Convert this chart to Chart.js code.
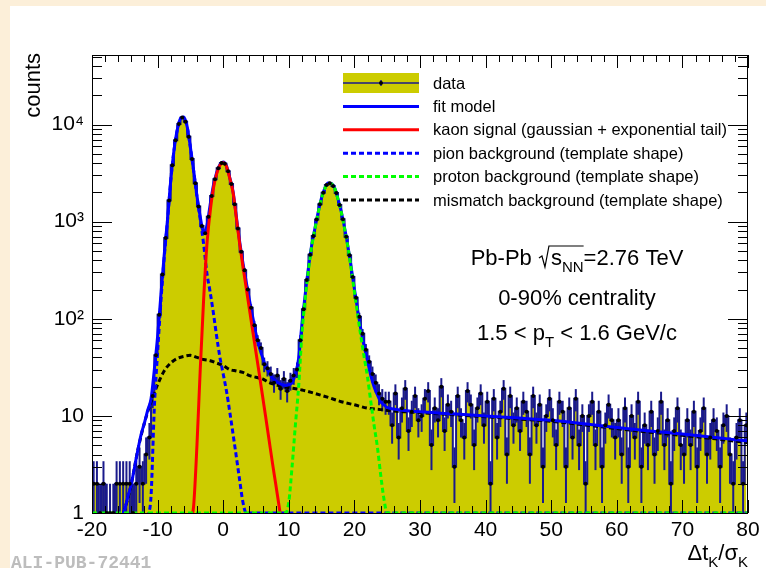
<!DOCTYPE html>
<html lang="en">
<head>
<meta charset="UTF-8" />
<title>Kaon TOF fit</title>
<script src="https://cdn.jsdelivr.net/npm/chart.js@4.4.1/dist/chart.umd.min.js"></script>
<style>
  html, body { margin: 0; padding: 0; background: #fcefd9; }
  canvas { display: block; }
</style>
</head>
<body>
<canvas id="myChart" width="766" height="568"></canvas>
<script>
// histogram: 200 bins of 0.5 from -20 to 80
const binLow = -20;
const binWidth = 0.5;
const counts = [
  2, 2, 1, 2, 1, 1, 1, 2, 2, 2,
  2, 2, 1, 2, 3, 2, 4, 6, 16, 42,
  110, 285, 680, 1650, 3800, 6900, 10100, 11800, 10700, 7500,
  4420, 2480, 1430, 900, 760, 1120, 1840, 2730, 3540, 4010,
  3950, 3300, 2440, 1510, 850, 490, 315, 200, 130, 86,
  60, 50, 34, 31, 27, 22, 26, 19, 24, 18,
  23, 26, 30, 60, 125, 250, 455, 710, 1050, 1510,
  1990, 2380, 2490, 2330, 1970, 1480, 1060, 700, 450, 270,
  165, 105, 70, 48, 36, 27, 22, 17, 15, 14,
  14, 8, 17, 6, 12, 19, 7, 11, 16, 9,
  10, 15, 18, 5, 12, 9, 20, 7, 13, 11,
  3, 16, 9, 6, 18, 13, 5, 12, 17, 8,
  14, 2, 15, 6, 11, 19, 4, 16, 8, 12,
  7, 14, 11, 4, 16, 8, 13, 3, 10, 15,
  9, 5, 14, 11, 3, 12, 6, 15, 5, 10,
  2, 10, 14, 5, 11, 3, 8, 13, 9, 6,
  9, 4, 12, 3, 10, 6, 14, 3, 8, 5,
  11, 4, 7, 14, 5, 9, 2, 7, 12, 5,
  4, 9, 5, 11, 3, 7, 12, 4, 6, 9,
  7, 3, 8, 10, 4, 2, 6, 9, 2, 8
];

// fit model (total)
const fitX = [-16,-15.5,-15,-14.5,-14,-13.5,-13,-12.5,-12,-11.5,-11,-10.5,-10,-9.5,-9,-8.5,-8,-7.5,-7,-6.5,
  -6,-5.5,-5,-4.5,-4,-3.5,-3,-2.5,-2,-1.5,-1,-0.5,0,0.5,1,1.5,2,2.5,3,3.5,4,4.5,5,5.5,6,6.5,7,7.5,8,8.5,
  9,9.5,10,10.5,11,11.5,12,12.5,13,13.5,14,14.5,15,15.5,16,16.5,17,17.5,18,18.5,19,19.5,20,20.5,21,21.5,
  22,22.5,23,23.5,24,24.5,25,26,28,30,35,40,45,50,55,60,65,70,75,80];
const fitY = [0.7,0.9,1.1,1.5,2,3,4.5,6.5,8.5,11.5,15,30,66,175,450,1030,2640,5440,8840,11540,
  11940,9540,5840,3340,1845,1120,790,900,1480,2350,3200,3870,4110,3750,2840,2040,1130,630,380,242,
  156,104,70,51,40,32,28,24.5,23,21.7,21,20.6,21,22,27,39,88,178,338,578,
  867,1267,1767,2216,2495,2465,2215,1715,1264,864,563,343,203,123,77,52,37,26,20,16.5,
  14,13,12.2,11.8,11.3,11,10.5,10,9.5,9,8.3,7.6,7,6.5,6,5.5];

// kaon signal
const kaonX = [-5,-4.5,-4,-3.5,-3,-2.5,-2,-1.5,-1,-0.5,0,0.5,1,1.5,2,2.5,3,3.5,4,4.5,5,5.5,6,6.5,7,7.5,8,8.5,9];
const kaonY = [0.8,1.2,5,30,150,560,1250,2200,3100,3800,4050,3700,2800,2000,1100,600,350,210,125,75,45,27,16,9.5,5.6,3.3,2,1.2,0.7];

// pion background
const pionX = [-11.5,-11,-10.5,-10,-9.5,-9,-8.5,-8,-7.5,-7,-6.5,-6,-5.5,-5,-4.5,-4,-3.5,-3,-2.5,-2,-1.5,-1,-0.5,0,0.5,1,1.5,2,2.5,3,3.5,80];
const pionY = [0.9,1.5,12,45,150,420,1000,2600,5400,8800,11500,11900,9500,5800,3300,1800,1050,600,300,190,115,66,40,27,18,11,6.5,3.8,2.2,1.3,1,1];

// proton background
const protonX = [-20,9.5,10,10.5,11,11.5,12,12.5,13,13.5,14,14.5,15,15.5,16,16.5,17,17.5,18,18.5,19,19.5,20,20.5,21,21.5,22,22.5,23,23.5,24,24.5,25,80];
const protonY = [1,1,1.3,3,8,20,70,160,320,560,850,1250,1750,2200,2480,2450,2200,1700,1250,850,550,330,190,110,65,40,25,14,8,4.8,2.5,1.4,1,1];

// mismatch background
const misX = [-16,-15,-14,-13,-12,-11,-10,-9,-8,-7,-6,-5,-4,-3,-2,-1,0,1,2,3,4,5,6,7,8,9,10,12,14,16,18,20,22,24,26,28,30,35,40,45,50,55,60,65,70,75,80];
const misY = [0.7,1.1,2,4.5,8.5,14,21,29,35,39,41,42,40,38,37,35,33,30,29,28,26,25,24,22,21,20,19.5,18.5,17,15.5,14,13,12,11.6,11.2,11,10.8,10.3,9.8,9.3,8.8,8.1,7.4,6.8,6.3,5.8,5.3];

const xTicks = [-20, -10, 0, 10, 20, 30, 40, 50, 60, 70, 80];
const yTickLabels = ["1", "10", "10²", "10³", "10⁴"];
const legendLabels = [
  "data",
  "fit model",
  "kaon signal (gaussian + exponential tail)",
  "pion background (template shape)",
  "proton background (template shape)",
  "mismatch background (template shape)"
];

const FONT = "'Liberation Sans', Arial, Helvetica, sans-serif";
const YELLOW = "#cccc00";
const NAVY = "#1a1a8c";
const DASH = [5, 3];

const pts = (xs, ys) => xs.map((x, i) => ({ x: x, y: ys[i] }));
const histPts = counts.map((n, i) => ({ x: binLow + (i + 0.5) * binWidth, y: n }));

function font(size) {
  return size + "px " + FONT;
}

// draws text with subscripts, returns start x of each part
function richText(ctx, parts, x, y, size, align) {
  const widths = parts.map(p => {
    if (p.w) return p.w;
    ctx.font = font(p.sub ? Math.round(size * 0.7) : size);
    return ctx.measureText(p.t).width;
  });
  const total = widths.reduce((a, b) => a + b, 0);
  let cx = align === "center" ? x - total / 2 : align === "right" ? x - total : x;
  const starts = [];
  ctx.textAlign = "left";
  ctx.textBaseline = "alphabetic";
  parts.forEach((p, i) => {
    starts.push(cx);
    if (p.t) {
      ctx.font = font(p.sub ? Math.round(size * 0.7) : size);
      ctx.fillText(p.t, cx, y + (p.sub ? size * 0.3 : 0));
    }
    cx += widths[i];
  });
  starts.push(cx);
  return starts;
}

const decor = {
  id: "decor",
  beforeDraw(chart) {
    const c = chart.ctx;
    c.save();
    c.fillStyle = "#ffffff";
    c.fillRect(10, 6, chart.width - 10, chart.height - 6);
    c.restore();
  },
  afterDatasetDraw(chart, args) {
    if (args.index !== 0) return;
    // error bars of the data histogram
    const { ctx, chartArea: a } = chart;
    const x = chart.scales.x, y = chart.scales.y;
    ctx.save();
    ctx.beginPath();
    ctx.rect(a.left, a.top, a.right - a.left, a.bottom - a.top);
    ctx.clip();
    ctx.strokeStyle = NAVY;
    ctx.lineWidth = 2;
    histPts.forEach(p => {
      const e = Math.sqrt(p.y);
      const px = x.getPixelForValue(p.x);
      ctx.beginPath();
      ctx.moveTo(px, y.getPixelForValue(Math.max(p.y - e, 0.5)));
      ctx.lineTo(px, y.getPixelForValue(p.y + e));
      ctx.stroke();
    });
    ctx.restore();
  },
  afterDraw(chart) {
    const { ctx, chartArea: a } = chart;
    const x = chart.scales.x, y = chart.scales.y;
    ctx.save();

    // frame + inward ticks
    ctx.strokeStyle = "#000";
    ctx.lineWidth = 1;
    ctx.strokeRect(a.left + 0.5, a.top + 0.5, a.right - a.left - 1, a.bottom - a.top);
    ctx.beginPath();
    for (let v = -20; v <= 80; v += 2) {
      const px = Math.round(x.getPixelForValue(v)) + 0.5;
      const len = v % 10 === 0 ? 13 : 7;
      ctx.moveTo(px, a.bottom); ctx.lineTo(px, a.bottom - len);
      ctx.moveTo(px, a.top); ctx.lineTo(px, a.top + len);
    }
    for (let d = 1; d <= 10000; d *= 10) {
      for (let m = 1; m <= 9; m++) {
        const v = m * d;
        if (v > y.max) break;
        const py = Math.round(y.getPixelForValue(v)) + 0.5;
        const len = m === 1 ? 20 : 10;
        ctx.moveTo(a.left, py); ctx.lineTo(a.left + len, py);
        ctx.moveTo(a.right, py); ctx.lineTo(a.right - len, py);
      }
    }
    ctx.stroke();

    // legend
    const lx0 = 343, lx1 = 419, tx = 433;
    const styles = [
      null,
      { c: "#0000ff", d: [] },
      { c: "#ff0000", d: [] },
      { c: "#0000ff", d: DASH },
      { c: "#00ff00", d: DASH },
      { c: "#000000", d: DASH }
    ];
    legendLabels.forEach((label, i) => {
      const ry = 83 + i * 23.4;
      if (i === 0) {
        ctx.fillStyle = YELLOW;
        ctx.fillRect(lx0, ry - 10, lx1 - lx0, 20);
        ctx.strokeStyle = NAVY;
        ctx.lineWidth = 1.5;
        ctx.setLineDash([]);
        ctx.beginPath();
        ctx.moveTo(lx0, ry); ctx.lineTo(lx1, ry);
        ctx.moveTo((lx0 + lx1) / 2, ry - 3); ctx.lineTo((lx0 + lx1) / 2, ry + 3);
        ctx.stroke();
        ctx.fillStyle = "#000";
        ctx.beginPath();
        ctx.arc((lx0 + lx1) / 2, ry, 2, 0, Math.PI * 2);
        ctx.fill();
      } else {
        ctx.strokeStyle = styles[i].c;
        ctx.lineWidth = 3;
        ctx.setLineDash(styles[i].d);
        ctx.beginPath();
        ctx.moveTo(lx0, ry); ctx.lineTo(lx1, ry);
        ctx.stroke();
        ctx.setLineDash([]);
      }
      ctx.fillStyle = "#000";
      ctx.font = font(16.5);
      ctx.textAlign = "left";
      ctx.textBaseline = "middle";
      ctx.fillText(label, tx, ry + 1);
    });

    // annotations
    ctx.fillStyle = "#000";
    const s = richText(ctx, [
      { t: "Pb-Pb " }, { t: "", w: 13 }, { t: "s" }, { t: "NN", sub: true }, { t: "=2.76 TeV" }
    ], 577, 265, 22, "center");
    ctx.strokeStyle = "#000";
    ctx.lineWidth = 1.2;
    ctx.beginPath();
    ctx.moveTo(s[1] + 1, 258); ctx.lineTo(s[1] + 4, 256);
    ctx.lineTo(s[1] + 7, 267); ctx.lineTo(s[1] + 11, 246);
    ctx.lineTo(s[4], 246);
    ctx.stroke();
    richText(ctx, [{ t: "0-90% centrality" }], 577, 305, 22, "center");
    richText(ctx, [{ t: "1.5 < p" }, { t: "T", sub: true }, { t: " < 1.6 GeV/c" }], 577, 340, 22, "center");

    // axis titles
    richText(ctx, [{ t: "\u0394t" }, { t: "K", sub: true }, { t: "/\u03c3" }, { t: "K", sub: true }], 748, 560, 22, "right");
    ctx.save();
    ctx.translate(40, 53);
    ctx.rotate(-Math.PI / 2);
    ctx.font = font(22);
    ctx.textAlign = "right";
    ctx.textBaseline = "alphabetic";
    ctx.fillText("counts", 0, 0);
    ctx.restore();

    // figure id
    ctx.fillStyle = "#bdbdbd";
    ctx.font = "bold 18px 'Liberation Mono', 'DejaVu Sans Mono', monospace";
    ctx.textAlign = "left";
    ctx.textBaseline = "alphabetic";
    ctx.fillText("ALI-PUB-72441", 11, 568);

    ctx.restore();
  }
};

const curve = (xs, ys, color, dash, order) => ({
  data: pts(xs, ys),
  borderColor: color,
  borderWidth: 3,
  borderDash: dash,
  pointRadius: 0,
  fill: false,
  cubicInterpolationMode: "monotone",
  order: order
});

const ctx = document.getElementById("myChart").getContext("2d");
const chart = new Chart(ctx, {
  type: "line",
  data: {
    datasets: [
      {
        data: histPts,
        stepped: "middle",
        fill: "start",
        backgroundColor: YELLOW,
        borderColor: NAVY,
        borderWidth: 2,
        pointRadius: 0,
        order: 10
      },
      curve(misX, misY, "#000000", DASH, 8),
      curve(fitX, fitY, "#0000ff", [], 6),
      curve(pionX, pionY, "#0000ff", DASH, 4),
      curve(kaonX, kaonY, "#ff0000", [], 3),
      curve(protonX, protonY, "#00ff00", DASH, 2),
      {
        data: histPts,
        showLine: false,
        pointRadius: 2,
        pointBackgroundColor: "#000",
        pointBorderWidth: 0,
        order: 0
      }
    ]
  },
  options: {
    responsive: false,
    animation: false,
    devicePixelRatio: 1,
    layout: { padding: { top: 55, right: 18, left: 0, bottom: 0 } },
    plugins: { legend: { display: false }, tooltip: { enabled: false } },
    scales: {
      x: {
        type: "linear",
        min: -20,
        max: 80,
        grid: { display: false, drawTicks: false },
        border: { display: false },
        afterBuildTicks: s => { s.ticks = xTicks.map(v => ({ value: v })); },
        ticks: { autoSkip: false, maxRotation: 0, padding: 5, color: "#000", font: { family: FONT, size: 21 } },
        afterFit: s => { s.height = 55; }
      },
      y: {
        type: "logarithmic",
        min: 1,
        max: 52000,
        grid: { display: false, drawTicks: false },
        border: { display: false },
        ticks: {
          autoSkip: false,
          padding: 8,
          color: "#000",
          font: { family: FONT, size: 21 },
          callback: v => {
            const e = Math.log10(v);
            return Math.abs(e - Math.round(e)) < 1e-9 ? yTickLabels[Math.round(e)] : "";
          }
        },
        afterFit: s => { s.width = 92; }
      }
    }
  },
  plugins: [decor]
});
</script>
</body>
</html>
